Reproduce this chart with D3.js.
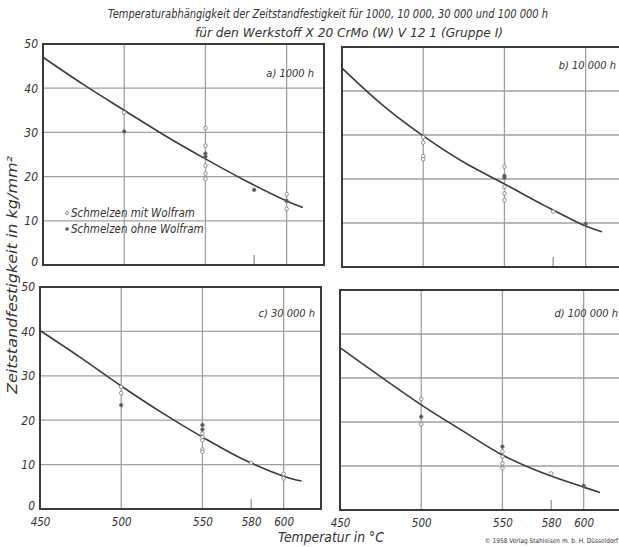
<!DOCTYPE html>
<html>
<head>
<meta charset="utf-8">
<script src="https://cdn.jsdelivr.net/npm/d3@7"></script>
<style>
  body { margin: 0; background: #fff; }
  svg text { font-family: "DejaVu Sans Condensed", "Liberation Sans Narrow", sans-serif; font-style: italic; fill: #333; }
</style>
</head>
<body>
<svg id="chart" width="619" height="547"></svg>
<script>
// tick values
var xTicks = [450, 500, 550, 580, 600];
var xGrid = [500, 550, 600];
var yTicks = [0, 10, 20, 30, 40, 50];
var yGrid = [10, 20, 30, 40];

// panel captions
var panelNames = ["a) 1000 h", "b) 10 000 h", "c) 30 000 h", "d) 100 000 h"];

// fitted curves [temp, kg/mm2]
var curveA = [[450, 47], [475, 40.8], [500, 35], [525, 29.3], [550, 24], [575, 19], [600, 14.5], [610, 13]];
var curveB = [[450, 45.2], [475, 36.8], [500, 29.8], [525, 23.8], [550, 18.9], [575, 13.9], [600, 9.3], [610, 8]];
var curveC = [[450, 40.2], [475, 34.1], [500, 27.7], [525, 21.7], [550, 16.2], [575, 11.2], [600, 7.4], [611, 6.3]];
var curveD = [[450, 36.9], [475, 30.3], [500, 23.9], [525, 18.1], [550, 12.5], [575, 8.4], [600, 5.2], [610, 4]];

// measured points [temp, value, 1 = ohne Wolfram]
var pointsA = [[500, 34.5, 0], [500, 30.2, 1], [550, 31, 0], [550, 27, 0], [550, 25.2, 1], [550, 24.5, 1],
  [550, 22.5, 0], [550, 20.7, 0], [550, 19.5, 0], [580, 17, 1], [600, 16, 0], [600, 14.5, 1], [600, 12.7, 0]];
var pointsB = [[500, 29.5, 0], [500, 28.3, 0], [500, 25.2, 0], [500, 24.5, 0], [550, 22.8, 0], [550, 20.7, 1],
  [550, 20.3, 1], [550, 18.2, 0], [550, 16.7, 0], [550, 15.2, 0], [580, 12.6, 0], [600, 9.8, 1]];
var pointsC = [[500, 27.5, 0], [500, 26.1, 0], [500, 23.4, 1], [550, 18.9, 1], [550, 17.9, 1], [550, 17, 0],
  [550, 16.2, 0], [550, 15.5, 0], [550, 13.4, 0], [550, 12.9, 0], [580, 10.4, 0], [600, 7.9, 0], [600, 6.9, 0]];
var pointsD = [[500, 25.2, 0], [500, 21.2, 1], [500, 19.5, 0], [550, 14.4, 1], [550, 13.3, 0], [550, 12.1, 0],
  [550, 10.6, 0], [550, 9.5, 0], [580, 8.3, 0], [600, 5.5, 1]];

var legendItems = ["Schmelzen mit Wolfram", "Schmelzen ohne Wolfram"];

var svg = d3.select("#chart");

// panel boxes (layout)
var panels = [
  {x0: 43, y0: 44, y1: 265, curve: curveA, pts: pointsA, name: panelNames[0], lx: 314, ly: 77, left: true, bottom: false},
  {x0: 342, y0: 47, y1: 267, curve: curveB, pts: pointsB, name: panelNames[1], lx: 616, ly: 69, left: false, bottom: false},
  {x0: 40, y0: 287, y1: 509, curve: curveC, pts: pointsC, name: panelNames[2], lx: 315, ly: 317, left: true, bottom: true},
  {x0: 340, y0: 290, y1: 510, curve: curveD, pts: pointsD, name: panelNames[3], lx: 618, ly: 317, left: false, bottom: true}
];
var pw = 281;

panels.forEach(function(p) {
  var xs = d3.scaleLinear().domain([450, 623]).range([p.x0, p.x0 + pw]);
  var ys = d3.scaleLinear().domain([0, 50]).range([p.y1, p.y0]);
  var g = svg.append("g");

  // grid
  g.selectAll(".hg").data(yGrid).enter().append("line")
    .attr("x1", p.x0).attr("x2", p.x0 + pw)
    .attr("y1", function(d) { return ys(d); }).attr("y2", function(d) { return ys(d); })
    .attr("stroke", "#a0a0a0").attr("stroke-width", 1.3);
  g.selectAll(".vg").data(xGrid).enter().append("line")
    .attr("x1", function(d) { return xs(d); }).attr("x2", function(d) { return xs(d); })
    .attr("y1", p.y0).attr("y2", p.y1)
    .attr("stroke", "#a0a0a0").attr("stroke-width", 1.3);
  // short mark at 580
  g.append("line")
    .attr("x1", xs(580)).attr("x2", xs(580))
    .attr("y1", p.y1).attr("y2", p.y1 - 10)
    .attr("stroke", "#777").attr("stroke-width", 1);

  // frame
  g.append("rect")
    .attr("x", p.x0).attr("y", p.y0).attr("width", pw).attr("height", p.y1 - p.y0)
    .attr("fill", "none").attr("stroke", "#3a3a3a").attr("stroke-width", 2);

  // curve
  var line = d3.line()
    .x(function(d) { return xs(d[0]); })
    .y(function(d) { return ys(d[1]); })
    .curve(d3.curveCatmullRom);
  g.append("path").datum(p.curve)
    .attr("d", line).attr("fill", "none")
    .attr("stroke", "#3c3c3c").attr("stroke-width", 1.6);

  // points
  g.selectAll(".pt").data(p.pts).enter().append("circle")
    .attr("cx", function(d) { return xs(d[0]); })
    .attr("cy", function(d) { return ys(d[1]); })
    .attr("r", 1.8)
    .attr("fill", function(d) { return d[2] ? "#555" : "#fff"; })
    .attr("stroke", "#777").attr("stroke-width", 0.8);

  // caption
  g.append("text")
    .attr("x", p.lx).attr("y", p.ly)
    .attr("text-anchor", "end")
    .style("font-size", "11px")
    .text(p.name);

  if (p.left) {
    var yAxis = d3.axisLeft(ys).tickValues(yTicks).tickSize(0).tickPadding(5);
    var ya = g.append("g").attr("transform", "translate(" + p.x0 + ",0)").call(yAxis);
    ya.select(".domain").remove();
    ya.selectAll("text").style("font-size", "12px")
      .style("font-family", "\"DejaVu Sans Condensed\", sans-serif").attr("fill", "#333")
      .attr("dy", function(d) { return d === 0 ? "0.05em" : "0.32em"; });
  }
  if (p.bottom) {
    var xAxis = d3.axisBottom(xs).tickValues(xTicks).tickSize(0).tickPadding(9);
    var xa = g.append("g").attr("transform", "translate(0," + p.y1 + ")").call(xAxis);
    xa.select(".domain").remove();
    xa.selectAll("text").style("font-size", "11.5px")
      .style("font-family", "\"DejaVu Sans Condensed\", sans-serif").attr("fill", "#333");
  }
});

// legend in panel a
var legend = svg.append("g");
legendItems.forEach(function(t, i) {
  legend.append("circle")
    .attr("cx", 67).attr("cy", 213 + i * 16).attr("r", 1.5)
    .attr("fill", i ? "#555" : "#fff").attr("stroke", "#777").attr("stroke-width", 0.8);
  legend.append("text")
    .attr("x", 71).attr("y", 217 + i * 16)
    .style("font-size", "11.5px")
    .text(t);
});

// titles
svg.append("text")
  .attr("x", 108).attr("y", 18)
  .attr("textLength", 440).attr("lengthAdjust", "spacingAndGlyphs")
  .style("font-size", "12px")
  .text("Temperaturabhängigkeit der Zeitstandfestigkeit für 1000, 10 000, 30 000 und 100 000 h");
svg.append("text")
  .attr("x", 195).attr("y", 37)
  .attr("textLength", 308).attr("lengthAdjust", "spacingAndGlyphs")
  .style("font-size", "12px")
  .text("für den Werkstoff X 20 CrMo (W) V 12 1 (Gruppe I)");

// axis titles
svg.append("text")
  .attr("transform", "translate(17,275) rotate(-90)")
  .attr("text-anchor", "middle")
  .attr("textLength", 238).attr("lengthAdjust", "spacingAndGlyphs")
  .style("font-size", "14px")
  .text("Zeitstandfestigkeit in kg/mm²");
svg.append("text")
  .attr("x", 278).attr("y", 542)
  .attr("textLength", 106).attr("lengthAdjust", "spacingAndGlyphs")
  .style("font-size", "14px")
  .text("Temperatur in °C");

svg.append("text")
  .attr("x", 618).attr("y", 543)
  .attr("text-anchor", "end")
  .style("font-size", "6.5px").style("font-style", "normal")
  .text("© 1958 Verlag Stahleisen m. b. H. Düsseldorf");
</script>
</body>
</html>
